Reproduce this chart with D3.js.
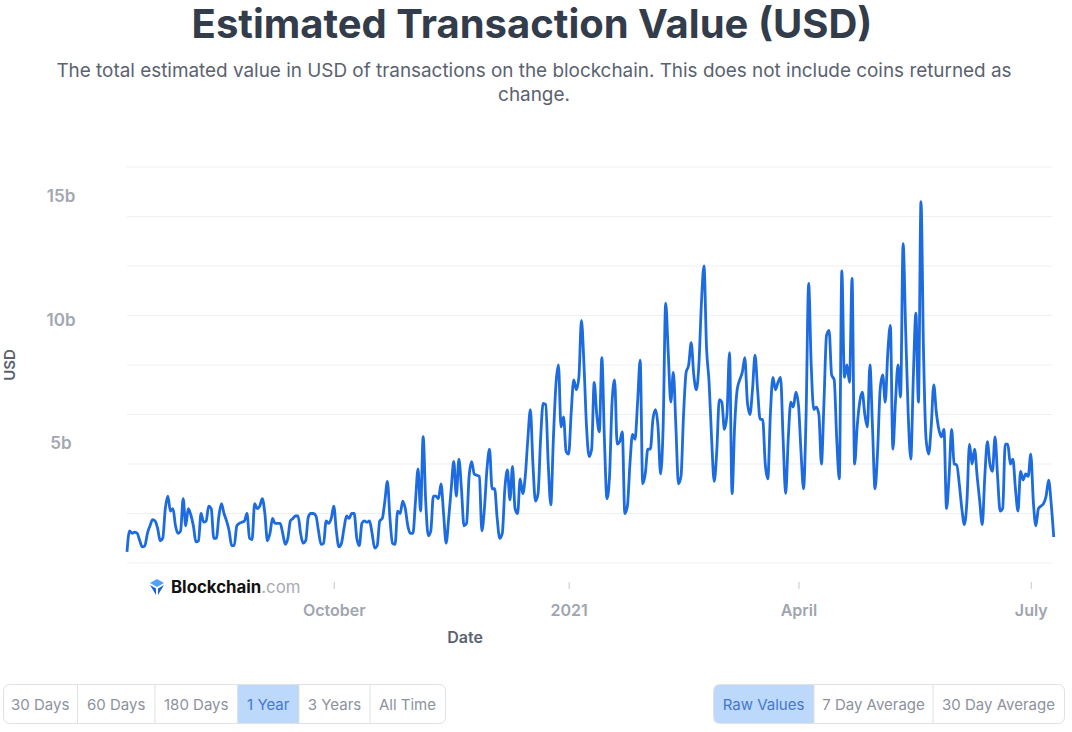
<!DOCTYPE html>
<html lang="en">
<head>
<meta charset="utf-8">
<title>Estimated Transaction Value (USD)</title>
<script src="https://cdn.jsdelivr.net/npm/d3@7"></script>
<style>
  body { margin: 0; background: #fff; font-family: Inter, "Open Sans", sans-serif; }
  svg { display: block; }
</style>
</head>
<body>
<script>
// daily values in billions USD, one row per week (Sun..Sat), starting 2020-07-12
var startDate = new Date(2020, 6, 12);
var valuesQ3 = [
  0.45, 1.3, 1.2, 1.25, 1.2, 0.9, 0.65,
  0.7, 1.2, 1.5, 1.75, 1.7, 1.4, 0.9,
  1.0, 2.2, 2.7, 2.1, 2.2, 1.5, 1.2,
  1.3, 2.6, 1.5, 2.2, 1.95, 1.5, 0.85,
  0.9, 2.0, 1.65, 1.7, 2.3, 2.2, 1.0,
  1.0, 1.9, 2.4, 2.0, 1.7, 1.3, 0.7,
  0.7, 1.5, 1.6, 1.65, 1.7, 2.0, 1.0,
  0.95, 2.4, 2.2, 2.3, 2.6, 2.0, 0.9,
  1.2, 1.8, 1.6, 1.6, 1.6, 1.2, 0.75,
  1.0, 1.7, 1.8, 1.9, 1.9, 1.2, 0.8,
  0.9, 1.85, 2.0, 2.0, 1.9, 1.3, 0.75,
  0.8, 1.7, 1.6, 1.8, 2.3, 1.3, 0.65,
  0.8, 1.4, 1.9, 1.8, 2.0, 2.0, 1.0
];
var valuesQ4 = [
  0.7, 1.6, 1.7, 1.65, 1.7, 1.2, 0.6,
  0.7, 1.7, 1.8, 2.5, 3.3, 1.8, 0.8,
  0.75, 2.1, 2.0, 2.5, 2.2, 1.5, 1.2,
  1.2, 2.5, 3.8, 2.1, 5.1, 2.5, 1.1,
  1.3, 2.7, 2.7, 2.6, 3.2, 2.0, 0.8,
  1.8, 3.0, 4.1, 2.7, 4.2, 3.0, 1.5,
  1.6, 3.5, 4.1, 3.6, 3.55, 3.5, 1.3,
  2.2, 3.8, 4.6, 3.0, 3.0, 1.8, 1.0,
  1.2, 3.0, 3.76, 2.55, 3.9, 2.2, 2.0,
  3.4, 2.8, 3.5, 5.0, 6.2, 4.0, 2.5,
  2.8, 5.0, 6.45, 6.4, 4.0, 2.35, 5.0,
  7.2, 8.0, 5.5, 5.9, 4.5, 4.4, 6.1,
  7.4, 7.0, 7.5, 9.8, 8.0, 5.5, 4.3
];
var valuesQ1 = [
  4.6, 7.3, 6.0, 5.3, 8.3, 5.0, 2.6,
  3.5, 6.5, 7.4, 4.8, 4.9, 5.3, 2.0,
  2.3, 4.0, 5.2, 5.0, 6.5, 8.2, 3.2,
  3.6, 4.6, 4.6, 5.8, 6.2, 5.5, 3.6,
  5.5, 10.5, 8.5, 6.5, 7.7, 5.5, 3.2,
  3.5, 6.0, 7.7, 8.0, 8.9, 7.6, 7.0,
  8.0, 10.5, 12.0, 8.7, 7.3, 5.0, 3.3,
  4.5, 6.6, 6.5, 5.4, 6.0, 8.5, 2.8,
  5.5, 7.0, 7.4, 7.7, 8.3, 6.5, 6.0,
  7.0, 8.4, 7.0, 5.8, 5.8, 4.0, 3.4,
  6.0, 7.5, 7.0, 7.3, 7.5, 5.0, 2.8,
  5.0, 6.5, 6.3, 6.9, 6.4, 4.5, 3.0,
  6.0, 11.3, 8.0, 6.2, 6.3, 6.0, 4.0
];
var valuesQ2 = [
  6.5, 9.2, 9.4, 7.6, 7.4, 5.0, 3.4,
  11.8, 7.5, 8.0, 7.3, 11.5, 4.0, 5.5,
  6.5, 6.9, 6.0, 5.5, 8.0, 5.5, 3.0,
  4.5, 7.0, 7.6, 6.5, 8.5, 9.6, 4.6,
  6.5, 8.0, 6.7, 12.9, 9.4, 6.0, 4.2,
  7.5, 10.1, 6.5, 14.6, 8.5, 5.0, 4.4,
  5.5, 7.2, 6.1, 5.4, 5.1, 5.4, 2.2,
  3.5, 5.4, 4.0, 3.96, 3.2, 2.2, 1.55,
  2.5, 4.8, 4.0, 4.6, 3.5, 2.5, 1.55,
  3.5, 4.9, 4.0, 3.7, 5.1, 3.5, 2.1,
  2.2, 4.8, 4.8, 4.0, 4.2, 3.0, 2.1,
  3.7, 3.35, 3.6, 3.5, 4.4, 2.5, 1.5,
  2.2, 2.3, 2.4, 2.7, 3.35, 2.4, 1.05
];
var yTickValues = [5e9, 10e9, 15e9];
var yTickLabels = ["5b", "10b", "15b"];
var xTickDates = [new Date(2020, 9, 1), new Date(2021, 0, 1), new Date(2021, 3, 1), new Date(2021, 6, 1)];
var xTickLabels = ["October", "2021", "April", "July"];
var rangeButtons = ["30 Days", "60 Days", "180 Days", "1 Year", "3 Years", "All Time"];
var rangeEdges = [3, 77.5, 155, 237.5, 299, 370, 445];
var avgButtons = ["Raw Values", "7 Day Average", "30 Day Average"];
var avgEdges = [713, 814, 933, 1064];

var dataset = valuesQ3.concat(valuesQ4, valuesQ1, valuesQ2).map(function(v, i) {
  return { date: d3.timeDay.offset(startDate, i), value: v * 1e9 };
});

var w = 1072, h = 732;
var svg = d3.select("body").append("svg").attr("width", w).attr("height", h);

// title + subtitle
svg.append("text").attr("x", 532).attr("y", 38).attr("text-anchor", "middle")
   .attr("font-size", 40).attr("font-weight", 700).attr("fill", "#333c4a")
   .text("Estimated Transaction Value (USD)");
svg.append("text").attr("x", 534).attr("y", 77).attr("text-anchor", "middle")
   .attr("font-size", 18.9).attr("fill", "#5a6270")
   .text("The total estimated value in USD of transactions on the blockchain. This does not include coins returned as");
svg.append("text").attr("x", 534).attr("y", 101).attr("text-anchor", "middle")
   .attr("font-size", 18.9).attr("fill", "#5a6270").text("change.");

// scales
var xScale = d3.scaleTime()
  .domain([startDate, dataset[dataset.length - 1].date])
  .range([127, 127 + (dataset.length - 1) * 2.553]);
var yScale = d3.scaleLinear().domain([0, 16e9]).range([563, 167]);

// gridlines every 2b
svg.append("g").selectAll("line")
  .data(d3.range(0, 16e9 + 1, 2e9))
  .enter().append("line")
  .attr("x1", 127).attr("x2", 1052)
  .attr("y1", function(d) { return yScale(d); })
  .attr("y2", function(d) { return yScale(d); })
  .attr("stroke", "#eeeff2").attr("stroke-width", 1);

// y labels
svg.append("g").selectAll("text")
  .data(yTickValues)
  .enter().append("text")
  .attr("x", 61).attr("y", function(d) { return yScale(d) + 10; })
  .attr("text-anchor", "middle").attr("font-size", 17).attr("font-weight", 600)
  .attr("fill", "#a2a7b2")
  .text(function(d, i) { return yTickLabels[i]; });

svg.append("text")
  .attr("transform", "translate(15,365) rotate(-90)")
  .attr("text-anchor", "middle").attr("font-size", 15).attr("font-weight", 600)
  .attr("fill", "#5c6370").text("USD");

// x axis
var xAxis = d3.axisBottom(xScale)
  .tickValues(xTickDates)
  .tickSize(7)
  .tickPadding(16)
  .tickFormat(function(d, i) { return xTickLabels[i]; });
var gx = svg.append("g").attr("transform", "translate(0,582)").call(xAxis);
gx.select(".domain").remove();
gx.selectAll(".tick line").attr("stroke", "#c4c7cd");
gx.selectAll(".tick text").attr("font-size", 16).attr("font-weight", 600)
  .attr("fill", "#a0a5b0").attr("font-family", "Inter, sans-serif");

svg.append("text").attr("x", 465).attr("y", 643).attr("text-anchor", "middle")
   .attr("font-size", 16).attr("font-weight", 600).attr("fill", "#5c6370").text("Date");

// line
var line = d3.line()
  .curve(d3.curveMonotoneX)
  .x(function(d) { return xScale(d.date); })
  .y(function(d) { return yScale(d.value); });
svg.append("path").datum(dataset)
  .attr("d", line)
  .attr("fill", "none").attr("stroke", "#1c6be0").attr("stroke-width", 2.8)
  .attr("stroke-linejoin", "round");

// Blockchain.com watermark
var logo = svg.append("g").attr("transform", "translate(150,587)");
logo.append("path").attr("d", "M0,-4 L7,-8 L14,-4 L7,0 Z").attr("fill", "#4fa3f7");
logo.append("path").attr("d", "M0,-2 L6,1.5 L6,8 Z").attr("fill", "#1e5fd6");
logo.append("path").attr("d", "M14,-2 L8,1.5 L8,8 Z").attr("fill", "#1e5fd6");
var lt = logo.append("text").attr("x", 21).attr("y", 6).attr("font-size", 16.8);
lt.append("tspan").attr("font-weight", 700).attr("fill", "#121212").text("Blockchain");
lt.append("tspan").attr("fill", "#a7abb3").text(".com");

// button groups
function buttonGroup(labels, edges, active) {
  var g = svg.append("g");
  g.append("rect").attr("x", edges[0] + 0.5).attr("y", 684.5)
    .attr("width", edges[edges.length - 1] - edges[0]).attr("height", 39)
    .attr("rx", 6).attr("fill", "#fff").attr("stroke", "#dfe1e5");
  labels.forEach(function(lbl, i) {
    if (i === active) {
      g.append("path")
        .attr("d", i === 0
          ? "M" + (edges[0] + 6.5) + ",685 H" + edges[1] + " V723 H" + (edges[0] + 6.5) + " Q" + (edges[0] + 1) + ",723 " + (edges[0] + 1) + ",717 V691 Q" + (edges[0] + 1) + ",685 " + (edges[0] + 6.5) + ",685 Z"
          : "M" + edges[i] + ",685 H" + edges[i + 1] + " V723 H" + edges[i] + " Z")
        .attr("fill", "#bcd8fb");
    }
    if (i > 0) {
      g.append("line").attr("x1", edges[i]).attr("x2", edges[i])
        .attr("y1", 685).attr("y2", 723).attr("stroke", "#dfe1e5");
    }
    g.append("text").attr("x", (edges[i] + edges[i + 1]) / 2).attr("y", 710)
      .attr("text-anchor", "middle").attr("font-size", 15)
      .attr("fill", i === active ? "#4677cc" : "#8d929c").text(lbl);
  });
}
buttonGroup(rangeButtons, rangeEdges, 3);
buttonGroup(avgButtons, avgEdges, 0);
</script>
</body>
</html>
